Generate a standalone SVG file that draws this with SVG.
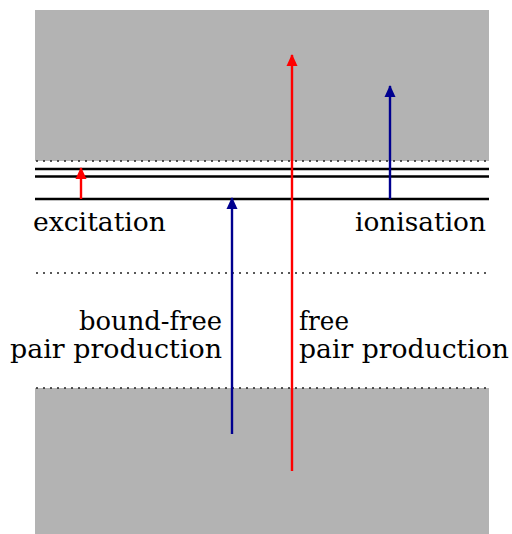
<svg xmlns="http://www.w3.org/2000/svg" width="512" height="534" viewBox="0 0 512 534">
<style>
.band{fill:#b3b3b3}
.lvl{stroke:#000;stroke-width:2.4;fill:none}
.dot{stroke:#222;stroke-width:1.6;stroke-dasharray:2 5;fill:none}
.red{stroke:#f00;stroke-width:2.4;fill:none}
.blue{stroke:#00008f;stroke-width:2.4;fill:none}
.lbl{font-family:'DejaVu Serif','Liberation Serif',serif;font-size:26px;fill:#000}
</style>
<defs>
<marker id="ar" markerUnits="userSpaceOnUse" viewBox="0 0 12 12" markerWidth="12" markerHeight="12" refX="11" refY="6" orient="auto">
<path d="M0,0.5 L12,6 L0,11.5 Z" fill="#f00"/>
</marker>
<marker id="ab" markerUnits="userSpaceOnUse" viewBox="0 0 12 12" markerWidth="12" markerHeight="12" refX="11" refY="6" orient="auto">
<path d="M0,0.5 L12,6 L0,11.5 Z" fill="#00008f"/>
</marker>
</defs>
<g id="bands">
<rect class="band" x="35" y="10" width="454" height="151"/>
<rect class="band" x="35" y="388" width="454" height="146"/>
</g>
<g id="levels">
<line class="dot" x1="36" y1="161" x2="489" y2="161"/>
<line class="lvl" x1="35" y1="169" x2="489" y2="169"/>
<line class="lvl" x1="35" y1="176.5" x2="489" y2="176.5"/>
<line class="lvl" x1="35" y1="199" x2="489" y2="199"/>
<line class="dot" x1="36" y1="273" x2="489" y2="273"/>
<line class="dot" x1="36" y1="388" x2="489" y2="388"/>
</g>
<g id="connectors">
<line class="red" x1="81" y1="199" x2="81" y2="168" marker-end="url(#ar)"/>
<line class="blue" x1="232" y1="434" x2="232" y2="198" marker-end="url(#ab)"/>
<line class="red" x1="292" y1="471" x2="292" y2="55" marker-end="url(#ar)"/>
<line class="blue" x1="390" y1="199" x2="390" y2="86" marker-end="url(#ab)"/>
</g>
<g id="labels">
<text class="lbl" x="33" y="231" textLength="133" lengthAdjust="spacingAndGlyphs">excitation</text>
<text class="lbl" x="355" y="231" textLength="131" lengthAdjust="spacingAndGlyphs">ionisation</text>
<text class="lbl" x="79" y="330" textLength="143" lengthAdjust="spacingAndGlyphs">bound-free</text>
<text class="lbl" x="10" y="358" textLength="212" lengthAdjust="spacingAndGlyphs">pair production</text>
<text class="lbl" x="299" y="330" textLength="50" lengthAdjust="spacingAndGlyphs">free</text>
<text class="lbl" x="299" y="358" textLength="210" lengthAdjust="spacingAndGlyphs">pair production</text>
</g>
</svg>
